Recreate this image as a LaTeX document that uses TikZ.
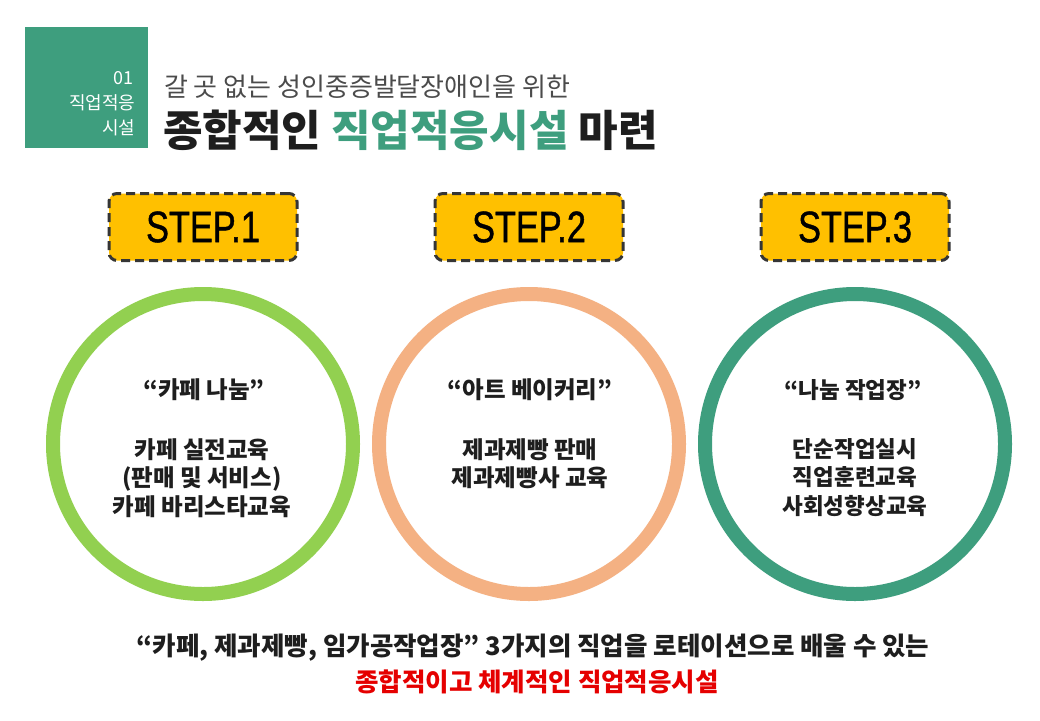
\documentclass[tikz,border=0pt]{standalone}
\usepackage{fontspec}
\setmainfont{Noto Sans CJK KR}
\newfontfamily\heavyfont{Noto Sans CJK KR Black}
\newfontfamily\stepfont[FakeStretch=0.78, FakeBold=1]{Liberation Sans}
\definecolor{teal}{HTML}{3E9E7E}
\definecolor{lime}{HTML}{92D050}
\definecolor{peach}{HTML}{F4B183}
\definecolor{amber}{HTML}{FFC000}
\definecolor{ink}{HTML}{1E1E1E}

\begin{document}
\begin{tikzpicture}[x=1pt, y=-1pt,
  stepbox/.style={draw=ink!90, fill=amber, line width=3pt, dash pattern=on 9pt off 5pt,
    rounded corners=8pt, minimum width=188pt, minimum height=67pt,
    font=\stepfont\fontsize{44}{44}\selectfont, text=black},
  ring/.style={line width=14pt},
  ringhead/.style={font=\bfseries\fontsize{23.5}{23.5}\selectfont, text=ink},
  ringbody/.style={font=\bfseries\fontsize{23.5}{28.5}\selectfont, text=ink, align=center,
    anchor=north, inner sep=0pt},
  tagtext/.style={anchor=east, text=white, font=\fontsize{18}{18}\selectfont}]

  % --- Frame ---
  \useasboundingbox[fill=white] (0,0) rectangle (1040,720);

  % --- Corner tag ---
  \fill[teal] (25,27) rectangle (148,148);
  \node[tagtext] (tagnum) at (137,78) {01};
  \node[tagtext] (tagword) at (139,103) {직업적응};
  \node[tagtext] (tagword2) at (139,128) {시설};

  % --- Heading ---
  \node[anchor=west, inner sep=0pt, text=ink!80, font=\fontsize{26}{26}\selectfont] (sub) at (164,87)
    {갈 곳 없는 성인중증발달장애인을 위한};
  \node[anchor=west, inner sep=0pt, text=ink, font=\heavyfont\fontsize{43}{43}\selectfont] (title) at (163,130)
    {종합적인 \textcolor{teal}{직업적응시설} 마련};

  % --- Steps ---
  \node[stepbox] (step1) at (203,227) {STEP.1};
  \node[stepbox] (step2) at (529,227) {STEP.2};
  \node[stepbox] (step3) at (855,227) {STEP.3};

  % --- Rings ---
  \draw[ring, lime]  (203,444) circle (150);
  \draw[ring, peach] (529,444) circle (150);
  \draw[ring, teal]  (855,444) circle (150);

  % --- Ring texts ---
  \node[ringhead] (cafe) at (204,390) {“카페 나눔”};
  \node[ringbody] (cafetxt) at (202,438) {카페 실전교육\\(판매 및 서비스)\\카페 바리스타교육};

  \node[ringhead] (bakery) at (530,390) {“아트 베이커리”};
  \node[ringbody] (bakerytxt) at (530,438) {제과제빵 판매\\제과제빵사 교육};

  \node[ringhead, font=\bfseries\fontsize{22.5}{22.5}\selectfont] (shop) at (853,390) {“나눔 작업장”};
  \node[ringbody, font=\bfseries\fontsize{22.5}{28.5}\selectfont] (shoptxt) at (855,438)
    {단순작업실시\\직업훈련교육\\사회성향상교육};

  % --- Footer ---
  \node[text=ink, font=\bfseries\fontsize{25.5}{25.5}\selectfont] (foot) at (533,648)
    {“카페, 제과제빵, 임가공작업장” 3가지의 직업을 로테이션으로 배울 수 있는};
  \node[text=red!90!black, font=\bfseries\fontsize{25.5}{25.5}\selectfont] (foot2) at (537,682)
    {종합적이고 체계적인 직업적응시설};

\end{tikzpicture}
\end{document}
